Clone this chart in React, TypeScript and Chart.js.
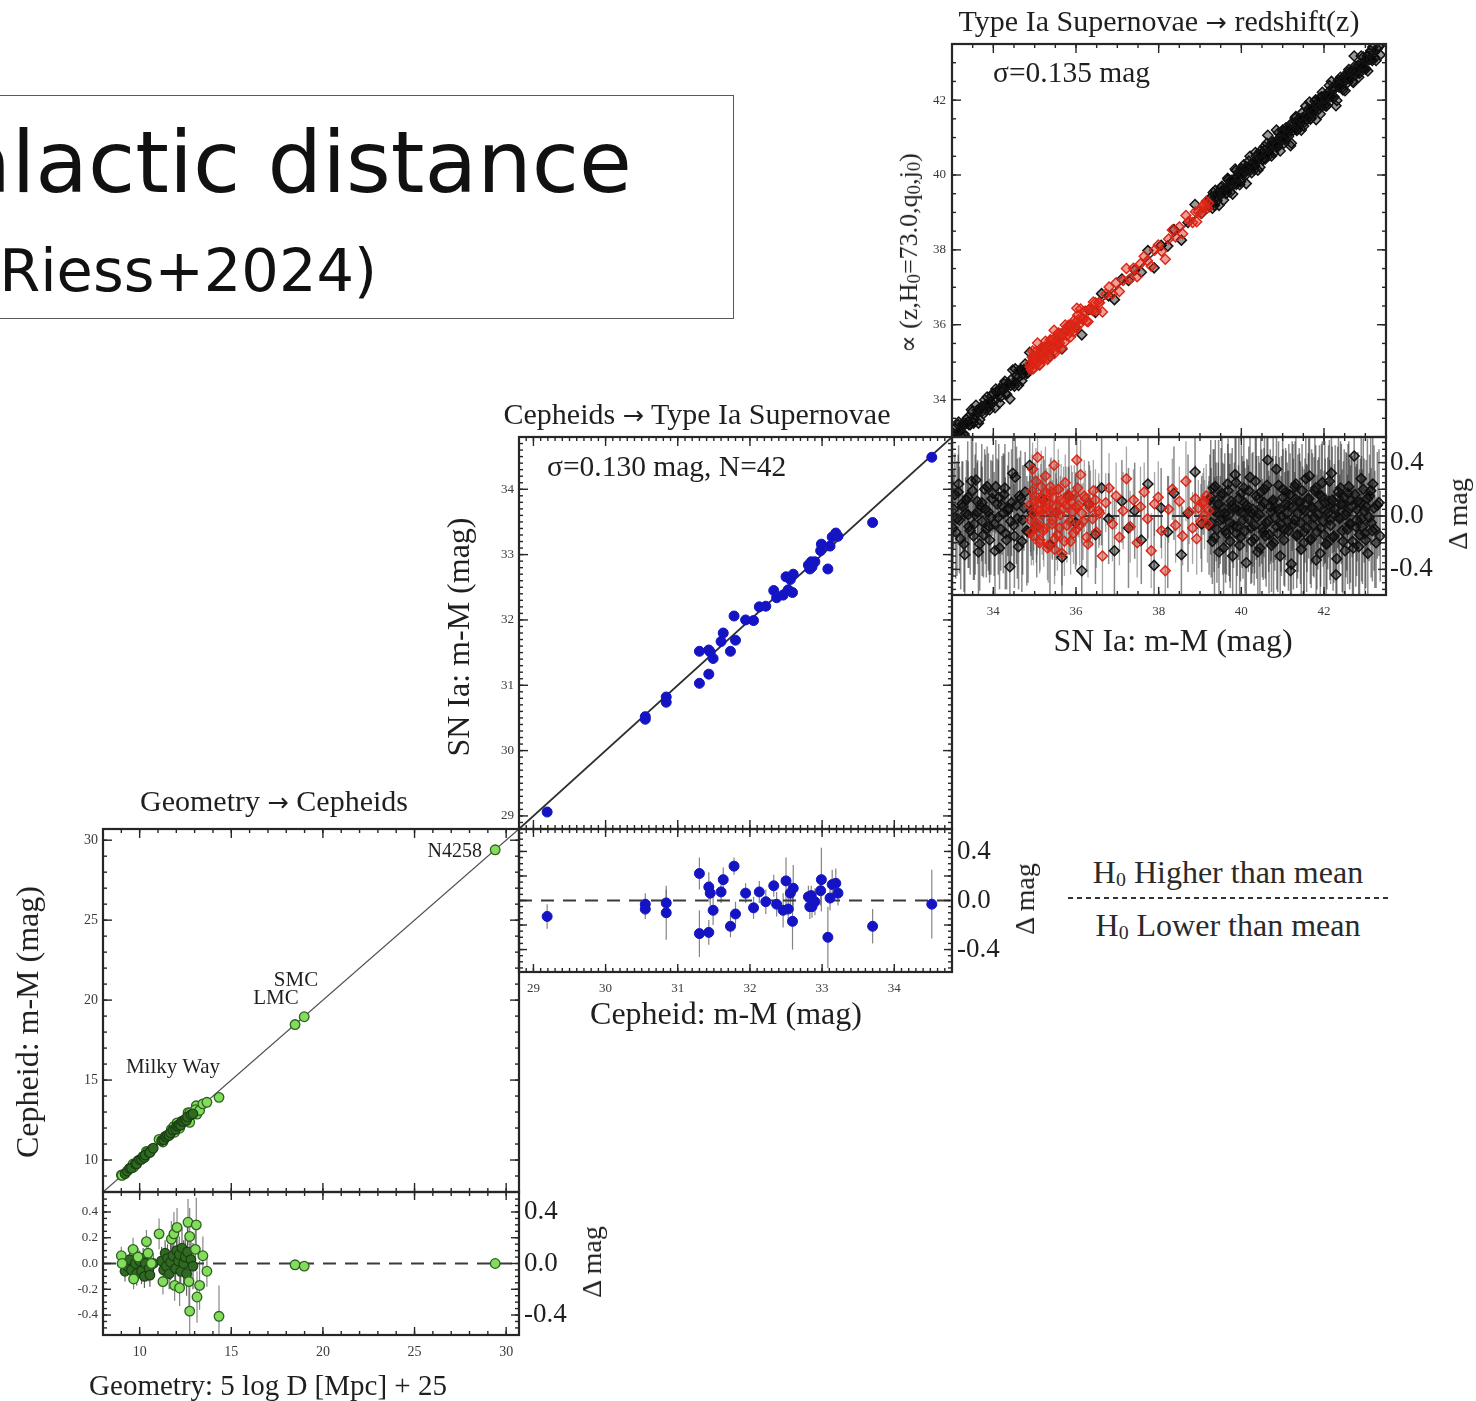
import { useEffect, useRef } from "react";
import { Chart, registerables } from "chart.js";

Chart.register(...registerables);

const SERIF = '"Liberation Serif", "Times New Roman", "DejaVu Serif", serif';
const SANS = '"DejaVu Sans", sans-serif';
const INK = "#1f1f1f";

// ---------- Geometry -> Cepheids ----------
const anchorNames = ["LMC", "SMC", "N4258"];
const anchorGeo = [18.48, 18.98, 29.4];
const anchorResid = [-0.01, -0.02, 0.0];
const anchorErr = [0.02, 0.02, 0.03];

// Milky Way Cepheids (isolated points)
const mwGeo = [9.0, 9.04, 9.64, 9.67, 9.91, 10.37, 10.46, 10.64, 11.06, 11.27, 11.73, 11.87, 12.04, 11.91, 12.18, 12.64, 12.73, 12.69, 12.73, 13.09, 13.04, 13.13, 13.27, 13.45, 13.67, 14.33];
const mwResid = [0.06, 0.0, 0.11, -0.12, 0.05, 0.17, 0.08, 0.0, 0.23, -0.14, 0.19, 0.23, 0.28, -0.17, -0.19, 0.32, 0.21, -0.14, -0.37, 0.3, 0.11, -0.26, -0.17, 0.06, -0.06, -0.41];
const mwErr = [0.07, 0.06, 0.09, 0.08, 0.07, 0.09, 0.11, 0.08, 0.12, 0.1, 0.14, 0.17, 0.15, 0.12, 0.14, 0.18, 0.22, 0.2, 0.28, 0.21, 0.17, 0.2, 0.19, 0.15, 0.12, 0.24];

// Milky Way Cepheids (dense core)
const mwCoreGeo = [9.2, 9.33, 9.45, 9.55, 9.76, 9.84, 10.0, 10.1, 10.19, 10.26, 10.31, 10.51, 10.56, 10.74, 11.2, 11.31, 11.39, 11.46, 11.52, 11.61, 11.69, 11.81, 11.96, 12.02, 12.11, 12.16, 12.24, 12.31, 12.4, 12.49, 12.56, 12.61, 12.8, 12.91];
const mwCoreResid = [-0.06, -0.02, 0.03, -0.05, 0.0, -0.08, 0.02, -0.06, 0.04, -0.1, 0.0, -0.04, -0.09, 0.0, 0.02, -0.05, 0.08, -0.02, 0.04, -0.08, 0.01, 0.06, -0.04, 0.1, 0.02, 0.07, -0.06, 0.12, 0.0, 0.05, -0.08, 0.09, 0.03, -0.02];
const mwCoreErr = [0.08, 0.07, 0.09, 0.08, 0.07, 0.09, 0.08, 0.1, 0.08, 0.09, 0.07, 0.1, 0.09, 0.08, 0.11, 0.12, 0.1, 0.13, 0.11, 0.12, 0.14, 0.12, 0.13, 0.15, 0.12, 0.14, 0.13, 0.16, 0.18, 0.15, 0.17, 0.2, 0.16, 0.18];

// ---------- Cepheids -> SN Ia (N=42) ----------
const cephMod = [29.19, 30.55, 30.55, 30.84, 30.84, 31.3, 31.3, 31.43, 31.45, 31.43, 31.49, 31.6, 31.63, 31.73, 31.78, 31.8, 31.94, 32.05, 32.13, 32.22, 32.33, 32.37, 32.46, 32.5, 32.53, 32.56, 32.6, 32.59, 32.81, 32.83, 32.85, 32.86, 32.9, 32.98, 32.99, 33.08, 33.11, 33.14, 33.19, 33.22, 33.7, 34.52];
const hostResid = [-0.13, -0.03, -0.07, -0.02, -0.1, 0.22, -0.27, 0.11, 0.06, -0.26, -0.08, 0.07, 0.17, -0.21, 0.28, -0.11, 0.06, -0.06, 0.07, -0.01, 0.12, -0.03, -0.08, 0.16, -0.07, 0.06, 0.1, -0.17, 0.03, -0.05, 0.04, -0.05, -0.01, 0.08, 0.17, -0.3, 0.02, 0.13, 0.14, 0.06, -0.21, -0.03];
const hostErr = [0.1, 0.09, 0.08, 0.11, 0.22, 0.13, 0.19, 0.12, 0.1, 0.1, 0.12, 0.09, 0.1, 0.09, 0.07, 0.1, 0.08, 0.09, 0.09, 0.1, 0.09, 0.1, 0.14, 0.19, 0.12, 0.1, 0.19, 0.23, 0.09, 0.1, 0.08, 0.09, 0.11, 0.12, 0.26, 0.25, 0.1, 0.12, 0.12, 0.1, 0.14, 0.28];

// ---------- SN Ia -> redshift ----------
// Hubble-flow SNe (black), first batch
const hfMod = [
  33.04, 33.09, 33.15, 33.18, 33.24, 33.29, 33.33, 33.38, 33.41, 33.47, 33.52, 33.56, 33.61, 33.64, 33.7, 33.73, 33.79, 33.83, 33.88, 33.91,
  33.97, 34.02, 34.06, 34.12, 34.15, 34.21, 34.26, 34.29, 34.35, 34.4, 34.44, 34.49, 34.53, 34.58, 34.63, 34.69, 34.74, 34.81, 34.88, 34.95,
  35.05, 35.21, 35.37, 35.52, 35.66, 35.83, 35.99, 36.14, 36.31, 36.47, 36.62, 36.79, 36.93, 37.11, 37.27, 37.42, 37.58, 37.74, 37.89, 38.06,
  38.22, 38.37, 38.55, 38.71, 38.88, 39.04,
  39.24, 39.27, 39.32, 39.35, 39.39, 39.44, 39.46, 39.51, 39.55, 39.58, 39.62, 39.67, 39.7, 39.73, 39.78, 39.81, 39.85, 39.88, 39.93, 39.96,
  40.0, 40.04, 40.07, 40.12, 40.15, 40.18, 40.23, 40.26, 40.31, 40.34, 40.37, 40.42, 40.45, 40.49, 40.53, 40.56, 40.6, 40.64, 40.67, 40.72,
  40.75, 40.78, 40.83, 40.86, 40.9, 40.94, 40.97, 41.01, 41.05, 41.08, 41.12, 41.15, 41.19, 41.23, 41.26, 41.3, 41.34, 41.37, 41.41, 41.45,
  41.48, 41.52, 41.56, 41.59, 41.63, 41.67, 41.7, 41.74, 41.78, 41.81, 41.85, 41.89, 41.92, 41.96, 42.0, 42.03, 42.07, 42.11, 42.14, 42.18,
  42.22, 42.25, 42.29, 42.33, 42.36, 42.4, 42.44, 42.47, 42.51, 42.55, 42.58, 42.62, 42.66, 42.69, 42.73, 42.77, 42.8, 42.84, 42.88, 42.91,
  42.95, 42.99, 43.02, 43.06, 43.1, 43.14, 43.18, 43.23, 43.29, 43.36,
];
const hfResid = [
  0.05, -0.12, 0.18, -0.03, 0.09, -0.21, 0.02, 0.14, -0.08, 0.26, -0.15, 0.01, 0.11, -0.27, 0.07, -0.04, 0.2, -0.1, 0.03, -0.18,
  0.13, -0.06, 0.22, -0.01, -0.24, 0.08, 0.16, -0.13, 0.04, -0.38, 0.1, -0.07, 0.29, -0.02, 0.15, -0.19, 0.06, -0.11, 0.38, 0.02,
  -0.08, 0.12, -0.22, 0.03, -0.31, 0.15, -0.05, -0.41, 0.09, -0.14, 0.21, -0.02, -0.26, 0.11, -0.09, 0.04, -0.18, 0.24, -0.37, 0.06,
  -0.12, 0.17, -0.29, 0.02, 0.33, -0.06,
  0.12, -0.05, 0.21, -0.16, 0.03, 0.09, -0.27, 0.15, -0.02, 0.06, -0.11, 0.24, 0.01, -0.19, 0.08, -0.07, 0.31, -0.13, 0.04, -0.22,
  0.17, -0.03, 0.1, -0.35, 0.05, 0.19, -0.09, 0.02, -0.17, 0.26, -0.01, 0.13, -0.24, 0.07, -0.12, 0.2, -0.05, 0.42, -0.14, 0.03,
  0.11, -0.2, 0.06, -0.08, 0.23, -0.3, 0.0, 0.14, -0.1, 0.18, -0.04, 0.08, -0.41, 0.15, -0.06, 0.22, -0.15, 0.02, 0.1, -0.25,
  0.05, -0.12, 0.28, -0.02, 0.13, -0.18, 0.07, -0.07, 0.19, -0.33, 0.01, 0.16, -0.09, 0.25, -0.14, 0.04, -0.21, 0.11, -0.03, 0.32,
  -0.16, 0.06, -0.44, 0.14, -0.01, 0.21, -0.11, 0.09, -0.26, 0.03, 0.17, -0.06, 0.12, -0.19, 0.45, -0.08, 0.05, -0.23, 0.1, -0.02,
  0.2, -0.13, 0.07, -0.28, 0.15, -0.05, 0.24, -0.1, 0.08, -0.15,
];
const hfErr = [
  0.3, 0.35, 0.28, 0.4, 0.32, 0.36, 0.27, 0.42, 0.31, 0.38, 0.33, 0.45, 0.29, 0.37, 0.34, 0.41, 0.3, 0.36, 0.44, 0.32,
  0.28, 0.39, 0.35, 0.43, 0.31, 0.37, 0.3, 0.42, 0.34, 0.27, 0.4, 0.33, 0.36, 0.45, 0.29, 0.38, 0.32, 0.41, 0.3, 0.35,
  0.38, 0.33, 0.42, 0.36, 0.3, 0.44, 0.35, 0.4, 0.32, 0.37, 0.43, 0.34, 0.39, 0.31, 0.45, 0.36, 0.33, 0.41, 0.37, 0.3,
  0.42, 0.35, 0.38, 0.44, 0.32, 0.36,
  0.34, 0.41, 0.29, 0.45, 0.37, 0.31, 0.48, 0.36, 0.42, 0.33, 0.39, 0.3, 0.46, 0.35, 0.43, 0.32, 0.38, 0.47, 0.34, 0.4,
  0.36, 0.44, 0.31, 0.49, 0.37, 0.33, 0.42, 0.45, 0.35, 0.39, 0.46, 0.32, 0.38, 0.43, 0.36, 0.41, 0.48, 0.3, 0.44, 0.37,
  0.34, 0.42, 0.39, 0.47, 0.33, 0.4, 0.45, 0.36, 0.43, 0.31, 0.38, 0.46, 0.35, 0.41, 0.49, 0.34, 0.39, 0.44, 0.37, 0.42,
  0.32, 0.47, 0.36, 0.4, 0.45, 0.33, 0.43, 0.38, 0.46, 0.35, 0.41, 0.37, 0.44, 0.31, 0.48, 0.39, 0.34, 0.42, 0.45, 0.36,
  0.4, 0.33, 0.47, 0.38, 0.43, 0.35, 0.46, 0.32, 0.41, 0.44, 0.37, 0.49, 0.34, 0.4, 0.36, 0.45, 0.39, 0.42, 0.33, 0.47,
  0.38, 0.43, 0.35, 0.46, 0.31, 0.41, 0.36, 0.44, 0.4, 0.34,
];

// Hubble-flow SNe (black), second batch
const hfMod2 = [
  33.02, 33.07, 33.12, 33.16, 33.21, 33.26, 33.31, 33.35, 33.39, 33.44, 33.5, 33.54, 33.58, 33.62, 33.67, 33.72, 33.76, 33.81, 33.85, 33.9,
  33.94, 33.99, 34.04, 34.09, 34.13, 34.18, 34.24, 34.28, 34.32, 34.37, 34.42, 34.47, 34.51, 34.56, 34.61, 34.66, 34.71, 34.77, 34.84, 34.91,
  39.22, 39.26, 39.3, 39.34, 39.37, 39.41, 39.45, 39.49, 39.53, 39.57, 39.6, 39.64, 39.68, 39.72, 39.75, 39.79, 39.83, 39.87, 39.9, 39.94,
  39.98, 40.02, 40.06, 40.09, 40.13, 40.17, 40.21, 40.25, 40.28, 40.32, 40.36, 40.4, 40.44, 40.47, 40.51, 40.55, 40.58, 40.62, 40.66, 40.7,
  40.73, 40.77, 40.81, 40.85, 40.88, 40.92, 40.96, 41.0, 41.03, 41.07, 41.11, 41.14, 41.18, 41.21, 41.25, 41.29, 41.32, 41.36, 41.4, 41.43,
  41.47, 41.51, 41.54, 41.58, 41.62, 41.65, 41.69, 41.72, 41.76, 41.8, 41.83, 41.87, 41.91, 41.94, 41.98, 42.02, 42.05, 42.09, 42.13, 42.16,
  42.2, 42.24, 42.27, 42.31, 42.35, 42.38, 42.42, 42.46, 42.49, 42.53, 42.57, 42.6, 42.64, 42.68, 42.71, 42.75, 42.79, 42.82, 42.86, 42.9,
  42.93, 42.97, 43.01, 43.05, 43.09, 43.13, 43.17, 43.21, 43.26, 43.33,
];
const hfResid2 = [
  -0.09, 0.16, -0.02, 0.24, -0.17, 0.07, -0.29, 0.12, 0.01, -0.11, 0.19, -0.06, 0.27, 0.03, -0.21, 0.1, -0.14, 0.05, 0.22, -0.08,
  -0.01, 0.17, -0.26, 0.09, 0.14, -0.1, 0.02, 0.21, -0.18, 0.06, -0.04, 0.32, -0.15, 0.08, -0.23, 0.13, -0.03, 0.18, -0.12, 0.04,
  -0.07, 0.14, -0.19, 0.04, 0.22, -0.1, 0.09, -0.03, 0.17, -0.24, 0.02, -0.13, 0.19, -0.05, 0.11, -0.3, 0.06, 0.25, -0.08, 0.13,
  -0.16, 0.03, 0.21, -0.11, 0.08, -0.02, 0.29, -0.19, 0.05, -0.07, 0.15, -0.27, 0.01, 0.18, -0.09, 0.1, -0.15, 0.23, -0.04, 0.07,
  -0.22, 0.12, -0.01, 0.35, -0.13, 0.05, -0.06, 0.2, -0.18, 0.09, 0.02, -0.11, 0.16, -0.36, 0.07, -0.03, 0.24, -0.14, 0.11, -0.05,
  0.19, -0.2, 0.04, -0.09, 0.13, 0.3, -0.17, 0.06, -0.01, 0.21, -0.12, 0.08, -0.28, 0.15, -0.04, 0.1, -0.21, 0.02, 0.26, -0.07,
  0.12, -0.15, 0.05, -0.32, 0.18, -0.02, 0.09, -0.19, 0.14, 0.01, -0.1, 0.22, -0.06, 0.07, -0.24, 0.16, -0.03, 0.11, -0.14, 0.28,
  -0.08, 0.04, -0.18, 0.13, -0.01, 0.19, -0.11, 0.06, -0.2, 0.1,
];
const hfErr2 = [
  0.36, 0.31, 0.43, 0.29, 0.38, 0.34, 0.45, 0.3, 0.4, 0.33, 0.37, 0.42, 0.28, 0.39, 0.35, 0.44, 0.32, 0.41, 0.3, 0.36,
  0.43, 0.29, 0.38, 0.34, 0.4, 0.31, 0.45, 0.33, 0.37, 0.42, 0.35, 0.28, 0.39, 0.44, 0.32, 0.36, 0.41, 0.3, 0.38, 0.34,
  0.37, 0.43, 0.32, 0.46, 0.35, 0.4, 0.48, 0.33, 0.42, 0.38, 0.45, 0.31, 0.39, 0.44, 0.36, 0.49, 0.34, 0.41, 0.37, 0.46,
  0.33, 0.42, 0.38, 0.47, 0.35, 0.4, 0.44, 0.31, 0.43, 0.36, 0.48, 0.34, 0.39, 0.45, 0.37, 0.41, 0.32, 0.46, 0.38, 0.43,
  0.35, 0.47, 0.4, 0.33, 0.44, 0.39, 0.36, 0.49, 0.34, 0.42, 0.38, 0.45, 0.31, 0.41, 0.47, 0.36, 0.43, 0.33, 0.4, 0.46,
  0.35, 0.42, 0.39, 0.48, 0.34, 0.44, 0.37, 0.41, 0.45, 0.32, 0.43, 0.36, 0.47, 0.39, 0.34, 0.46, 0.38, 0.42, 0.31, 0.44,
  0.4, 0.35, 0.48, 0.37, 0.43, 0.33, 0.45, 0.39, 0.36, 0.47, 0.41, 0.34, 0.44, 0.38, 0.46, 0.32, 0.42, 0.37, 0.49, 0.35,
  0.43, 0.39, 0.36, 0.45, 0.33, 0.41, 0.38, 0.47, 0.34, 0.4,
];

// Calibrator SNe (red)
const calSnMod = [
  34.88, 34.92, 34.95, 34.98, 35.01, 35.04, 35.07, 35.1, 35.13, 35.16, 35.19, 35.22, 35.26, 35.29, 35.33, 35.36, 35.4, 35.43, 35.47, 35.51,
  35.55, 35.58, 35.62, 35.66, 35.7, 35.74, 35.78, 35.83, 35.87, 35.91, 35.96, 36.01, 36.06, 36.11, 36.17, 36.23, 36.29, 36.35, 36.42, 36.49,
  36.57, 36.64, 36.72, 36.8, 36.88, 36.97, 37.05, 37.14, 37.22, 37.31, 37.39, 37.48, 37.56, 37.65, 37.73, 37.82, 37.9, 37.99, 38.07, 38.16,
  38.24, 38.33, 38.41, 38.5, 38.58, 38.66, 38.74, 38.82, 38.89, 38.96, 39.02, 39.07, 39.11, 39.15, 39.18, 39.21, 38.92, 39.09, 36.02, 35.48,
  34.9, 34.94, 34.97, 35.0, 35.03, 35.06, 35.09, 35.12, 35.15, 35.18, 35.21, 35.24, 35.28, 35.31, 35.35, 35.38, 35.42, 35.45, 35.49, 35.53,
  35.57, 35.6, 35.64, 35.68, 35.72, 35.76, 35.81, 35.85, 35.89, 35.94, 35.99, 36.04, 36.09, 36.14, 36.2, 36.26, 36.33, 36.4, 36.47, 36.55,
];
const calSnResid = [
  0.08, -0.12, 0.35, 0.02, 0.15, -0.05, 0.44, 0.1, -0.18, 0.22, 0.05, -0.09, 0.3, 0.12, -0.22, 0.04, 0.18, -0.03, 0.38, 0.07,
  -0.14, 0.2, 0.01, -0.28, 0.11, 0.25, -0.07, 0.14, -0.19, 0.03, 0.16, -0.1, 0.08, 0.31, -0.04, 0.13, -0.21, 0.06, 0.19, -0.12,
  0.02, -0.3, 0.1, 0.21, -0.06, 0.15, -0.16, 0.04, 0.28, -0.08, 0.12, -0.2, 0.07, 0.18, -0.02, -0.26, 0.09, 0.14, -0.11, -0.41,
  0.05, 0.2, -0.07, 0.11, -0.15, 0.26, 0.03, -0.09, 0.13, 0.06, -0.04, 0.09, 0.01, 0.15, -0.06, 0.04, -0.17, 0.11, 0.42, -0.25,
  -0.03, 0.19, -0.15, 0.11, 0.26, -0.08, 0.04, -0.2, 0.13, 0.01, -0.11, 0.17, 0.06, -0.24, 0.09, 0.22, -0.06, 0.14, -0.17, 0.03,
  0.2, -0.09, 0.12, 0.05, -0.19, 0.08, 0.16, -0.04, 0.1, -0.13, 0.07, 0.21, -0.07, 0.02, 0.15, -0.16, 0.09, -0.02, 0.12, 0.04,
];
const calSnErr = [
  0.22, 0.25, 0.2, 0.28, 0.24, 0.3, 0.21, 0.26, 0.23, 0.27, 0.25, 0.29, 0.22, 0.24, 0.28, 0.21, 0.26, 0.3, 0.23, 0.25,
  0.27, 0.22, 0.29, 0.24, 0.26, 0.21, 0.28, 0.23, 0.25, 0.3, 0.22, 0.27, 0.24, 0.26, 0.29, 0.21, 0.25, 0.28, 0.23, 0.27,
  0.24, 0.3, 0.22, 0.26, 0.28, 0.25, 0.21, 0.29, 0.24, 0.27, 0.23, 0.26, 0.3, 0.22, 0.25, 0.28, 0.24, 0.27, 0.21, 0.29,
  0.25, 0.23, 0.28, 0.26, 0.22, 0.3, 0.24, 0.27, 0.25, 0.21, 0.28, 0.23, 0.26, 0.24, 0.29, 0.22, 0.27, 0.25, 0.3, 0.26,
  0.24, 0.27, 0.22, 0.29, 0.25, 0.21, 0.28, 0.23, 0.26, 0.3, 0.22, 0.25, 0.27, 0.24, 0.29, 0.21, 0.26, 0.23, 0.28, 0.25,
  0.3, 0.22, 0.27, 0.24, 0.26, 0.29, 0.21, 0.25, 0.28, 0.23, 0.26, 0.24, 0.3, 0.22, 0.27, 0.25, 0.29, 0.21, 0.23, 0.28,
];

// ---------- tick labels ----------
const geoTicks = [10, 15, 20, 25, 30];
const cephTicks = [29, 30, 31, 32, 33, 34];
const snTicks = [34, 36, 38, 40, 42];
const residTicksFine = [-0.4, -0.2, 0, 0.2, 0.4];
const residTicksCoarse = [-0.4, 0, 0.4];

// axis ranges
const GEO_MIN = 8, GEO_MAX = 30.7;
const CEPH_MIN = 28.8, CEPH_MAX = 34.8;
const SN_MIN = 33, SN_MAX = 43.5;
const R1 = 0.555, R2 = 0.583, R3 = 0.592;

// ---------- layout (chart areas in page pixels) ----------
type Box = { l: number; t: number; r: number; b: number };
const P1_MAIN: Box = { l: 103, t: 829, r: 519, b: 1192 };
const P1_RES: Box = { l: 103, t: 1192, r: 519, b: 1335 };
const P2_MAIN: Box = { l: 519, t: 437, r: 952, b: 829 };
const P2_RES: Box = { l: 519, t: 829, r: 952, b: 972 };
const P3_MAIN: Box = { l: 952, t: 44, r: 1386, b: 437 };
const P3_RES: Box = { l: 952, t: 437, r: 1386, b: 595 };
const MARGIN = 70; // canvas room around each chart area
const AXIS_ROOM = 60; // space given to a labelled axis

// ---------- helpers ----------
const pts = (xs: number[], ys: number[], es?: number[]) =>
  xs.map((x, i) => ({ x, y: ys[i], e: es ? es[i] : 0 }));
const onRelation = (xs: number[], resid: number[]) => xs.map((x, i) => x + resid[i]);

const steps = (min: number, max: number, step: number) => {
  const out: number[] = [];
  for (let k = Math.ceil(min / step - 1e-6); k * step <= max + 1e-6; k++) out.push(k * step);
  return out;
};

// error bars under the markers, then an inward-ticked frame on top
const framePlugin = {
  id: "frame",
  beforeDatasetsDraw(chart: any) {
    const { ctx, chartArea: a } = chart;
    ctx.save();
    ctx.beginPath();
    ctx.rect(a.left, a.top, a.right - a.left, a.bottom - a.top);
    ctx.clip();
    chart.data.datasets.forEach((ds: any, i: number) => {
      if (!ds.errorColor) return;
      const meta = chart.getDatasetMeta(i);
      const ys = meta.yScale;
      ctx.strokeStyle = ds.errorColor;
      ctx.lineWidth = ds.errorWidth ?? 1.2;
      ds.data.forEach((d: any, j: number) => {
        const el = meta.data[j];
        if (!el) return;
        ctx.beginPath();
        ctx.moveTo(el.x, ys.getPixelForValue(d.y - d.e));
        ctx.lineTo(el.x, ys.getPixelForValue(d.y + d.e));
        ctx.stroke();
      });
    });
    ctx.restore();
  },
  afterDatasetsDraw(chart: any, _args: any, o: any) {
    const { ctx, chartArea: a } = chart;
    const xs = chart.scales.x;
    const ys = chart.scales.y;
    ctx.save();
    ctx.strokeStyle = "#262626";
    ctx.lineWidth = 1.4;
    const seg = (x1: number, y1: number, x2: number, y2: number) => {
      ctx.beginPath();
      ctx.moveTo(x1, y1);
      ctx.lineTo(x2, y2);
      ctx.stroke();
    };
    const xTicks = (vals: number[], len: number) =>
      vals.forEach((v) => {
        const p = xs.getPixelForValue(v);
        if (p <= a.left + 1 || p >= a.right - 1) return;
        seg(p, a.bottom, p, a.bottom - len);
        seg(p, a.top, p, a.top + len);
      });
    const yTicks = (vals: number[], len: number) =>
      vals.forEach((v) => {
        const p = ys.getPixelForValue(v);
        if (p <= a.top + 1 || p >= a.bottom - 1) return;
        seg(a.left, p, a.left + len, p);
        seg(a.right, p, a.right - len, p);
      });
    xTicks(steps(xs.min, xs.max, o.xMinor), o.minorLen);
    xTicks(steps(xs.min, xs.max, o.xMajor), o.majorLen);
    yTicks(steps(ys.min, ys.max, o.yMinor), o.minorLen);
    yTicks(steps(ys.min, ys.max, o.yMajor), o.majorLen);
    ctx.lineWidth = 2.2;
    ctx.strokeRect(a.left, a.top, a.right - a.left, a.bottom - a.top);
    ctx.restore();
  },
};

type AxisOpts = { size?: number; pad?: number; color?: string; digits?: number };
function axis(min: number, max: number, position: string, ticks: number[] | null, o: AxisOpts = {}) {
  const horizontal = position === "bottom" || position === "top";
  const shown = ticks !== null;
  const room = shown ? AXIS_ROOM : 0;
  return {
    type: "linear",
    position,
    min,
    max,
    display: shown,
    grid: { display: false, drawTicks: false },
    border: { display: false },
    ticks: {
      display: shown,
      autoSkip: false,
      maxRotation: 0,
      minRotation: 0,
      padding: o.pad ?? 5,
      color: o.color ?? "#3a3a3a",
      font: { family: SERIF, size: o.size ?? 14 },
      callback: (v: any) => (o.digits != null ? Number(v).toFixed(o.digits) : String(v)),
    },
    afterBuildTicks: (s: any) => {
      s.ticks = (ticks ?? []).map((value) => ({ value }));
    },
    afterFit: (s: any) => {
      if (horizontal) s.height = room;
      else s.width = room;
      s.paddingLeft = 0;
      s.paddingRight = 0;
      s.paddingTop = 0;
      s.paddingBottom = 0;
    },
  };
}

function config(datasets: any[], scales: any, frame: any) {
  // keep the chart area exactly MARGIN px inside the canvas on every side
  const padding: any = { left: MARGIN, right: MARGIN, top: MARGIN, bottom: MARGIN };
  Object.values(scales).forEach((s: any) => {
    if (s.display) padding[s.position] = MARGIN - AXIS_ROOM;
  });
  return {
    type: "scatter",
    data: { datasets },
    options: {
      responsive: false,
      animation: false,
      events: [],
      layout: { padding },
      plugins: { legend: { display: false }, tooltip: { enabled: false }, frame },
      scales,
    },
    plugins: [framePlugin],
  };
}

const unity = (lo: number, hi: number, color: string, width: number) => ({
  data: [{ x: lo, y: lo }, { x: hi, y: hi }],
  showLine: true,
  pointRadius: 0,
  borderColor: color,
  borderWidth: width,
  order: 5,
});
const zeroLine = (lo: number, hi: number) => ({
  data: [{ x: lo, y: 0 }, { x: hi, y: 0 }],
  showLine: true,
  pointRadius: 0,
  borderColor: "#3a3a3a",
  borderWidth: 2,
  borderDash: [13, 9],
  order: 5,
});

const GREEN = { pointRadius: 4.8, backgroundColor: "#84dc5c", borderColor: "#2c6320", borderWidth: 1.3 };
const GREEN_CORE = { pointRadius: 4.8, backgroundColor: "#2f6a23", borderColor: "#1b3f12", borderWidth: 1.2 };
const BLUE = { pointRadius: 5, backgroundColor: "#1414c4", borderColor: "#1414c4", borderWidth: 1 };
const BLACK_D = { pointRadius: 5, pointStyle: "rectRot", backgroundColor: "rgba(0,0,0,0.4)", borderColor: "#121212", borderWidth: 1.5 };
const RED_D = { pointRadius: 5, pointStyle: "rectRot", backgroundColor: "rgba(222,42,26,0.45)", borderColor: "#dc2414", borderWidth: 1.4 };

const resTicks = { majorLen: 8, minorLen: 4 };

const p1Main = () =>
  config(
    [
      { data: pts(mwCoreGeo, onRelation(mwCoreGeo, mwCoreResid)), ...GREEN_CORE },
      { data: pts(mwGeo, onRelation(mwGeo, mwResid)), ...GREEN },
      { data: pts(anchorGeo, onRelation(anchorGeo, anchorResid)), ...GREEN },
      unity(GEO_MIN, GEO_MAX, "#505050", 1.3),
    ],
    { x: axis(GEO_MIN, GEO_MAX, "bottom", null), y: axis(GEO_MIN, GEO_MAX, "left", geoTicks, { pad: 5 }) },
    { xMajor: 5, xMinor: 1, yMajor: 5, yMinor: 1, majorLen: 9, minorLen: 4 }
  );

const p1Res = () =>
  config(
    [
      { data: pts(mwGeo, mwResid, mwErr), ...GREEN, errorColor: "rgba(105,105,105,0.8)" },
      { data: pts(mwCoreGeo, mwCoreResid, mwCoreErr), ...GREEN_CORE, errorColor: "rgba(60,60,60,0.8)" },
      { data: pts(anchorGeo, anchorResid, anchorErr), ...GREEN, errorColor: "rgba(90,90,90,0.8)" },
      zeroLine(GEO_MIN, GEO_MAX),
    ],
    {
      x: axis(GEO_MIN, GEO_MAX, "bottom", geoTicks, { pad: 9 }),
      y: axis(-R1, R1, "left", residTicksFine, { digits: 1, size: 13 }),
      yR: axis(-R1, R1, "right", residTicksCoarse, { digits: 1, size: 27, color: INK, pad: 5 }),
    },
    { xMajor: 5, xMinor: 1, yMajor: 0.2, yMinor: 0.05, ...resTicks }
  );

const p2Main = () =>
  config(
    [{ data: pts(cephMod, onRelation(cephMod, hostResid)), ...BLUE }, unity(CEPH_MIN, CEPH_MAX, "#2e2e2e", 1.8)],
    { x: axis(CEPH_MIN, CEPH_MAX, "bottom", null), y: axis(CEPH_MIN, CEPH_MAX, "left", cephTicks, { size: 13, pad: 5 }) },
    { xMajor: 1, xMinor: 0.1, yMajor: 1, yMinor: 0.1, majorLen: 9, minorLen: 4 }
  );

const p2Res = () =>
  config(
    [{ data: pts(cephMod, hostResid, hostErr), ...BLUE, errorColor: "rgba(110,110,110,0.85)" }, zeroLine(CEPH_MIN, CEPH_MAX)],
    {
      x: axis(CEPH_MIN, CEPH_MAX, "bottom", cephTicks, { size: 13, pad: 9 }),
      y: axis(-R2, R2, "left", null),
      yR: axis(-R2, R2, "right", residTicksCoarse, { digits: 1, size: 27, color: INK, pad: 5 }),
    },
    { xMajor: 1, xMinor: 0.1, yMajor: 0.2, yMinor: 0.05, ...resTicks }
  );

const p3Main = () =>
  config(
    [
      { data: pts(calSnMod, onRelation(calSnMod, calSnResid)), ...RED_D },
      { data: pts(hfMod, onRelation(hfMod, hfResid)), ...BLACK_D },
      { data: pts(hfMod2, onRelation(hfMod2, hfResid2)), ...BLACK_D },
      unity(SN_MIN, SN_MAX, "#2e2e2e", 1.6),
    ],
    { x: axis(SN_MIN, SN_MAX, "bottom", null), y: axis(SN_MIN, SN_MAX, "left", snTicks, { size: 13, pad: 6 }) },
    { xMajor: 2, xMinor: 0.5, yMajor: 2, yMinor: 0.5, majorLen: 9, minorLen: 4 }
  );

const p3Res = () =>
  config(
    [
      { data: pts(calSnMod, calSnResid, calSnErr), ...RED_D, errorColor: "rgba(80,80,80,0.5)", errorWidth: 1.3 },
      { data: pts(hfMod, hfResid, hfErr), ...BLACK_D, errorColor: "rgba(40,40,40,0.55)", errorWidth: 1.5 },
      { data: pts(hfMod2, hfResid2, hfErr2), ...BLACK_D, errorColor: "rgba(40,40,40,0.55)", errorWidth: 1.5 },
      zeroLine(SN_MIN, SN_MAX),
    ],
    {
      x: axis(SN_MIN, SN_MAX, "bottom", snTicks, { size: 13, pad: 9 }),
      y: axis(-R3, R3, "left", null),
      yR: axis(-R3, R3, "right", residTicksCoarse, { digits: 1, size: 27, color: INK, pad: 4 }),
    },
    { xMajor: 2, xMinor: 0.5, yMajor: 0.2, yMinor: 0.05, ...resTicks }
  );

function PanelCanvas({ box, build }: { box: Box; build: () => any }) {
  const ref = useRef<HTMLCanvasElement | null>(null);
  useEffect(() => {
    const chart = new Chart(ref.current as HTMLCanvasElement, build());
    return () => chart.destroy();
  }, []);
  const w = box.r - box.l + 2 * MARGIN;
  const h = box.b - box.t + 2 * MARGIN;
  return (
    <canvas
      ref={ref}
      width={w}
      height={h}
      style={{ position: "absolute", left: box.l - MARGIN, top: box.t - MARGIN, width: w, height: h }}
    />
  );
}

function Txt({ x, y, size, rot = 0, anchor = "center", font = SERIF, color = INK, children }: any) {
  const tx = anchor === "left" ? "0%" : anchor === "right" ? "-100%" : "-50%";
  return (
    <div
      style={{
        position: "absolute",
        left: x,
        top: y,
        transform: `translate(${tx}, -50%) rotate(${rot}deg)`,
        fontFamily: font,
        fontSize: size,
        lineHeight: 1,
        color,
        whiteSpace: "nowrap",
      }}
    >
      {children}
    </div>
  );
}

const Sub = ({ c, s = 0.62 }: { c: string; s?: number }) => (
  <span style={{ fontSize: `${s}em`, verticalAlign: "-0.18em" }}>{c}</span>
);
const Arrow = () => <span style={{ fontFamily: SANS, fontSize: "0.85em" }}>→</span>;

export default function App() {
  return (
    <div style={{ position: "absolute", left: 0, top: 0, width: 1476, height: 1401, overflow: "hidden", background: "#fff" }}>
      {/* slide heading box */}
      <div style={{ position: "absolute", left: -40, top: 95, width: 774, height: 224, border: "1px solid #5a5a5a", boxSizing: "border-box" }} />
      <div style={{ position: "absolute", right: 1476 - 632, top: 119, fontFamily: SANS, fontSize: 86, lineHeight: 1, color: "#111", whiteSpace: "nowrap" }}>
        Extragalactic distance
      </div>
      <div style={{ position: "absolute", right: 1476 - 377, top: 241, fontFamily: SANS, fontSize: 59, lineHeight: 1, color: "#111", whiteSpace: "nowrap" }}>
        (Riess+2024)
      </div>

      <PanelCanvas box={P1_MAIN} build={p1Main} />
      <PanelCanvas box={P1_RES} build={p1Res} />
      <PanelCanvas box={P2_MAIN} build={p2Main} />
      <PanelCanvas box={P2_RES} build={p2Res} />
      <PanelCanvas box={P3_MAIN} build={p3Main} />
      <PanelCanvas box={P3_RES} build={p3Res} />

      {/* panel titles */}
      <Txt x={1159} y={21} size={30}>Type Ia Supernovae <Arrow /> redshift(z)</Txt>
      <Txt x={697} y={414} size={30}>Cepheids <Arrow /> Type Ia Supernovae</Txt>
      <Txt x={274} y={801} size={30}>Geometry <Arrow /> Cepheids</Txt>

      {/* in-panel annotations */}
      <Txt x={993} y={73} size={29.5} anchor="left">σ=0.135 mag</Txt>
      <Txt x={547} y={467} size={29.5} anchor="left">σ=0.130 mag, N=42</Txt>
      <Txt x={482} y={850} size={20} anchor="right">{anchorNames[2]}</Txt>
      <Txt x={296} y={979} size={21}>{anchorNames[1]}</Txt>
      <Txt x={276} y={997} size={21}>{anchorNames[0]}</Txt>
      <Txt x={173} y={1066} size={21}>Milky Way</Txt>

      {/* axis titles */}
      <Txt x={27} y={1022} size={32} rot={-90}>Cepheid: m-M (mag)</Txt>
      <Txt x={458} y={637} size={32} rot={-90}>SN Ia: m-M (mag)</Txt>
      <Txt x={910} y={253} size={26} rot={-90}>
        ∝ (z,H<Sub c="0" s={0.72} />=73.0,q<Sub c="0" s={0.72} />,j<Sub c="0" s={0.72} />)
      </Txt>
      <Txt x={1173} y={640} size={32}>SN Ia: m-M (mag)</Txt>
      <Txt x={726} y={1013} size={32}>Cepheid: m-M (mag)</Txt>
      <Txt x={268} y={1385} size={29}>Geometry: 5 log D [Mpc] + 25</Txt>
      <Txt x={1458} y={514} size={28} rot={-90}>Δ mag</Txt>
      <Txt x={1025} y={899} size={28} rot={-90}>Δ mag</Txt>
      <Txt x={592} y={1262} size={28} rot={-90}>Δ mag</Txt>

      {/* H0 key */}
      <Txt x={1228} y={873} size={32} color="#2a2a2a">
        H<Sub c="0" /> Higher than mean
      </Txt>
      <div
        style={{
          position: "absolute",
          left: 1068,
          top: 897,
          width: 320,
          height: 2,
          background: "repeating-linear-gradient(90deg, #333 0 5px, transparent 5px 9px)",
        }}
      />
      <Txt x={1228} y={926} size={32} color="#2a2a2a">
        H<Sub c="0" /> Lower than mean
      </Txt>
    </div>
  );
}
